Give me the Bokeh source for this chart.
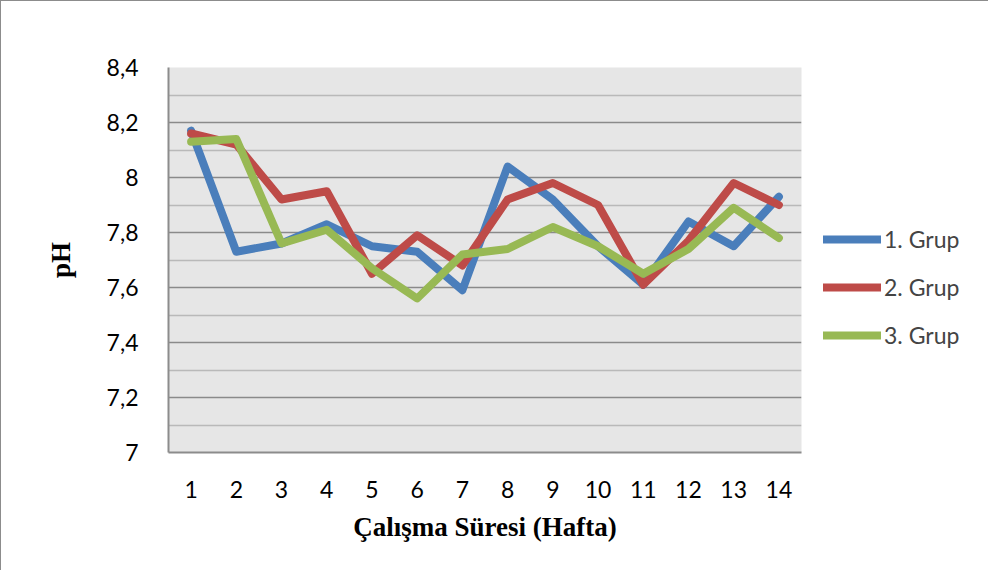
from bokeh.plotting import figure
from bokeh.models import Range1d, FixedTicker, Legend, LegendItem
from bokeh.embed import file_html
from bokeh.resources import INLINE

weeks = list(range(1, 15))
grup1 = [8.17, 7.73, 7.76, 7.83, 7.75, 7.73, 7.59, 8.04, 7.92, 7.75, 7.61, 7.84, 7.75, 7.93]
grup2 = [8.16, 8.12, 7.92, 7.95, 7.65, 7.79, 7.68, 7.92, 7.98, 7.90, 7.61, 7.77, 7.98, 7.90]
grup3 = [8.13, 8.14, 7.76, 7.81, 7.67, 7.56, 7.72, 7.74, 7.82, 7.75, 7.65, 7.74, 7.89, 7.78]
series_names = ["1. Grup", "2. Grup", "3. Grup"]
colors = ["#4A7EBB", "#BE4B48", "#98B954"]
y_ticks = [7.0, 7.2, 7.4, 7.6, 7.8, 8.0, 8.2, 8.4]
y_tick_labels = ["7", "7,2", "7,4", "7,6", "7,8", "8", "8,2", "8,4"]
y_minor = [7.1, 7.3, 7.5, 7.7, 7.9, 8.1, 8.3]

p = figure(frame_width=633, frame_height=385, output_backend="svg", toolbar_location=None,
           x_range=Range1d(0.5, 14.5), y_range=Range1d(7.0, 8.4),
           min_border_left=167, min_border_right=0, min_border_top=66, min_border_bottom=121)
p.styles = {"border": "1px solid #8c8c8c"}
p.background_fill_color = "#E6E6E6"
p.border_fill_color = "white"
p.outline_line_color = None

p.xaxis.ticker = FixedTicker(ticks=weeks)
p.yaxis.ticker = FixedTicker(ticks=y_ticks, minor_ticks=y_minor)
p.yaxis.major_label_overrides = {t: l for t, l in zip(y_ticks, y_tick_labels)}

for ax in (p.xaxis[0], p.yaxis[0]):
    ax.axis_line_color = "#8c8c8c"
    ax.axis_line_width = 2
    ax.major_tick_line_color = None
    ax.minor_tick_line_color = None
    ax.major_label_text_font = "Lato"
    ax.major_label_text_font_size = "23px"
    ax.major_label_text_color = "black"
    ax.axis_label_text_font = "Liberation Serif"
    ax.axis_label_text_font_style = "bold"
    ax.axis_label_text_font_size = "27px"
    ax.axis_label_text_color = "black"

p.xaxis.axis_label = "Çalışma Süresi (Hafta)"
p.yaxis.axis_label = "pH"
p.xaxis.major_label_standoff = 22
p.yaxis.major_label_standoff = 24
p.xaxis.axis_label_standoff = 11
p.yaxis.axis_label_standoff = 28

p.xgrid.grid_line_color = None
p.ygrid.grid_line_color = "#8a8a8a"
p.ygrid.grid_line_width = 1.5
p.ygrid.minor_grid_line_color = "#b9b9b9"
p.ygrid.minor_grid_line_width = 1.5

items = []
for name, data, c in zip(series_names, [grup1, grup2, grup3], colors):
    r = p.line(weeks, data, line_color=c, line_width=8, line_join="round", line_cap="round")
    items.append(LegendItem(label=name, renderers=[r]))

legend = Legend(items=items, location=(22, 103), glyph_width=58, glyph_height=24,
                label_height=24, spacing=20, padding=0, margin=0, label_standoff=3,
                label_text_font="Lato", label_text_font_size="23px",
                background_fill_alpha=0, border_line_color=None)
p.add_layout(legend, "right")

open("out.html", "w").write(file_html(p, INLINE))
